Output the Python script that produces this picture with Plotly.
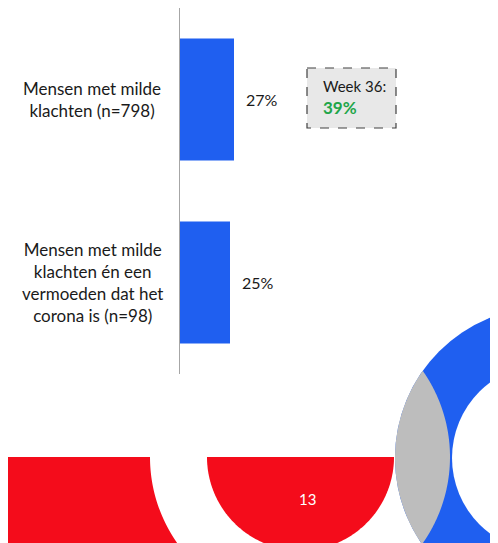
import numpy as np
import plotly.graph_objects as go

# ---- data ----
categories = [
    "Mensen met milde<br>klachten (n=798)",
    "Mensen met milde<br>klachten én een<br>vermoeden dat het<br>corona is (n=98)",
]
values = [27, 25]
value_labels = ["27%", "25%"]
callout_title = "Week 36:"
callout_value = "39%"
page_number = "13"

PAGE_W, PAGE_H = 498, 543
OFF = 8          # default body margin of the html page
VIS_R = 490      # right edge of the visible area
W, H = VIS_R - OFF, PAGE_H - OFF
BLUE = "#1f5ff0"
RED = "#f40c1b"
GRAY = "#bdbdbd"
FONT = "Lato"


def fx(px):
    return (px - OFF) / W


def fy(py):
    return 1 - (py - OFF) / H


fig = go.Figure()
fig.add_trace(go.Bar(
    y=categories, x=values, orientation="h",
    marker=dict(color=BLUE, line=dict(width=0)),
    width=0.667, hoverinfo="skip", xaxis="x", yaxis="y",
))
fig.add_trace(go.Scatter(x=[None], y=[None], xaxis="x2", yaxis="y2",
                         showlegend=False, hoverinfo="skip"))

ann = []
for c, v, t in zip(categories, values, value_labels):
    ann.append(dict(x=v, y=c, xref="x", yref="y", text=t, showarrow=False,
                    xanchor="left", xshift=10,
                    font=dict(family=FONT, size=16, color="#1a1a1a")))
    ann.append(dict(x=fx(92), y=c, xref="paper", yref="y", text=c,
                    showarrow=False, xanchor="center", align="center",
                    font=dict(family=FONT, size=17, color="#1a1a1a")))

ann.append(dict(x=321, y=86, xref="x2", yref="y2", text=callout_title,
                showarrow=False, xanchor="left", yanchor="middle",
                font=dict(family=FONT, size=15, color="#1a1a1a")))
ann.append(dict(x=321, y=107, xref="x2", yref="y2", text="<b>" + callout_value + "</b>",
                showarrow=False, xanchor="left", yanchor="middle",
                font=dict(family=FONT, size=17, color="#1fa64a")))
ann.append(dict(x=307, y=499, xref="x2", yref="y2", text=page_number,
                showarrow=False, xanchor="center", yanchor="middle",
                font=dict(family=FONT, size=15, color="white")))


def poly_path(pts):
    return "M " + " L ".join(f"{x:.2f},{y:.2f}" for x, y in pts) + " Z"


def arc(cx, cy, r, t0, t1, n=200):
    t = np.linspace(t0, t1, n)
    return list(zip(cx + r * np.cos(t), cy + r * np.sin(t)))


shapes = []
shapes.append(dict(type="rect", xref="x2", yref="y2", x0=307, x1=396, y0=68, y1=128,
                   fillcolor="#e8e8e8", line=dict(color="#404040", width=1.2, dash="dash"),
                   layer="below"))

cA, rA = (300.0, 457.0), 150.0
pts = [(-5, 457), (150, 457)]
ys = np.linspace(457, 560, 60)
pts += [(cA[0] - np.sqrt(max(rA**2 - (y - cA[1])**2, 0)), y) for y in ys]
pts += [(-5, 560)]
shapes.append(dict(type="path", xref="x2", yref="y2", path=poly_path(pts),
                   fillcolor=RED, line=dict(width=0), layer="below"))
hd = arc(300.5, 457, 93.5, 0, np.pi)
shapes.append(dict(type="path", xref="x2", yref="y2", path=poly_path(hd),
                   fillcolor=RED, line=dict(width=0), layer="below"))
cB, rB, rBi = (546.0, 458.0), 151.0, 94.0
shapes.append(dict(type="circle", xref="x2", yref="y2",
                   x0=cB[0] - rB, x1=cB[0] + rB, y0=cB[1] - rB, y1=cB[1] + rB,
                   fillcolor=BLUE, line=dict(width=0), layer="below"))
shapes.append(dict(type="circle", xref="x2", yref="y2",
                   x0=cB[0] - rBi, x1=cB[0] + rBi, y0=cB[1] - rBi, y1=cB[1] + rBi,
                   fillcolor="white", line=dict(width=0), layer="below"))
tA = np.linspace(-np.pi / 2, np.pi / 2, 600)
a_pts = [(cA[0] + rA * np.cos(t), cA[1] + rA * np.sin(t)) for t in tA]
a_pts = [p for p in a_pts if (p[0] - cB[0])**2 + (p[1] - cB[1])**2 <= rB**2]
tB = np.linspace(np.pi / 2, 3 * np.pi / 2, 600)
b_pts = [(cB[0] + rB * np.cos(t), cB[1] + rB * np.sin(t)) for t in tB]
b_pts = [p for p in b_pts if (p[0] - cA[0])**2 + (p[1] - cA[1])**2 <= rA**2]
shapes.append(dict(type="path", xref="x2", yref="y2", path=poly_path(a_pts + b_pts),
                   fillcolor=GRAY, line=dict(width=0), layer="below"))

fig.update_layout(
    width=W, height=H,
    margin=dict(l=0, r=0, t=0, b=0),
    paper_bgcolor="white", plot_bgcolor="rgba(0,0,0,0)",
    showlegend=False,
    bargap=0.333,
    xaxis=dict(domain=[fx(180), 1], range=[0, (VIS_R - 180) / 2], visible=False, fixedrange=True),
    yaxis=dict(domain=[fy(374), fy(8)], range=[1.5, -0.5], type="category",
               showticklabels=False, showline=True, linecolor="#a6a6a6", linewidth=1,
               ticks="", showgrid=False, zeroline=False, fixedrange=True),
    xaxis2=dict(domain=[0, 1], range=[OFF, VIS_R], visible=False, anchor="y2", fixedrange=True),
    yaxis2=dict(domain=[0, 1], range=[PAGE_H, OFF], visible=False, anchor="x2", fixedrange=True),
    annotations=ann,
    shapes=shapes,
)

fig.write_html("out.html")
